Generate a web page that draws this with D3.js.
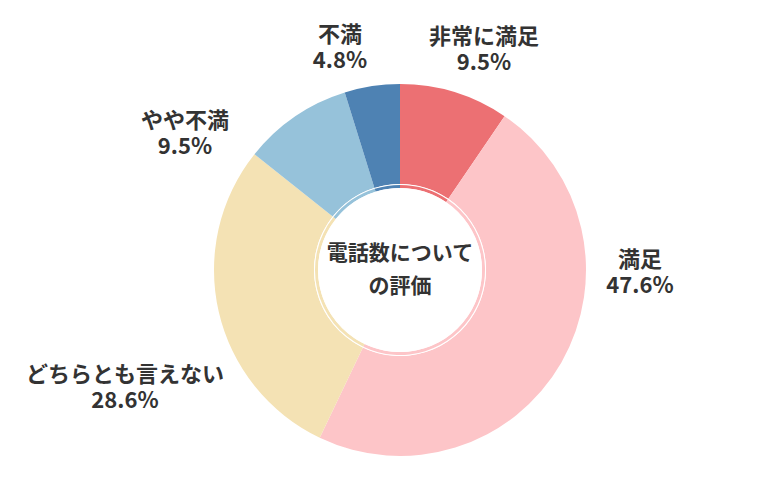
<!DOCTYPE html>
<html><head><meta charset="utf-8">
<script src="https://cdn.jsdelivr.net/npm/d3@7"></script>
<style>body{margin:0;background:#fff}</style></head>
<body><svg id="c" width="780" height="500"></svg>
<script>
const categories = ["非常に満足","満足","どちらとも言えない","やや不満","不満"];
const values = [9.5,47.6,28.6,9.5,4.8];
const colors = ["#ec7073","#fdc5c8","#f4e2b4","#96c2da","#4e82b3"];
const labelPos = [[484,44],[640,267],[125,382],[185,128],[340,42]];
const font = "'Noto Sans CJK JP','Noto Sans',sans-serif";
const svg = d3.select("#c");
const g = svg.append("g").attr("transform","translate(400,270)");
const pie = d3.pie().sort(null).value(d=>d)(values);
const arc = d3.arc().innerRadius(86).outerRadius(186);
g.selectAll("path.s").data(pie).join("path").attr("d",arc).attr("fill",(d,i)=>colors[i]);
g.append("circle").attr("r",86).attr("fill","#fff");
const arc2 = d3.arc().innerRadius(82).outerRadius(85);
g.selectAll("path.r").data(pie).join("path").attr("d",arc2).attr("fill",(d,i)=>colors[i]);
g.append("circle").attr("r",82).attr("fill","#fff");
g.append("text").attr("text-anchor","middle").attr("y",-10).attr("font-family",font).attr("font-weight","bold").attr("font-size",21).attr("fill","#333").text("電話数について");
g.append("text").attr("text-anchor","middle").attr("y",23).attr("font-family",font).attr("font-weight","bold").attr("font-size",21).attr("fill","#333").text("の評価");
categories.forEach((c,i)=>{
  svg.append("text").attr("text-anchor","middle").attr("font-family",font).attr("font-weight","bold").attr("font-size",22).attr("fill","#333")
    .attr("x",labelPos[i][0]).attr("y",labelPos[i][1]).text(c);
  svg.append("text").attr("text-anchor","middle").attr("font-family",font).attr("font-weight","bold").attr("font-size",22).attr("fill","#333")
    .attr("x",labelPos[i][0]).attr("y",labelPos[i][1]+26).text(values[i].toFixed(1)+"%");
});
</script></body></html>
